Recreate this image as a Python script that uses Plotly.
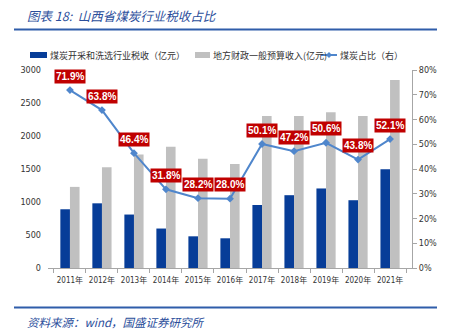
import plotly.graph_objects as go

years = ["2011年", "2012年", "2013年", "2014年", "2015年", "2016年",
         "2017年", "2018年", "2019年", "2020年", "2021年"]
coal_tax = [890, 980, 810, 598, 480, 450, 955, 1103, 1205, 1027, 1495]
local_rev = [1229, 1528, 1721, 1836, 1654, 1574, 2302, 2302, 2358, 2302, 2848]
coal_share = [71.9, 63.8, 46.4, 31.8, 28.2, 28.0, 50.1, 47.2, 50.6, 43.8, 52.1]

name_tax = "煤炭开采和洗选行业税收（亿元）"
name_rev = "地方财政一般预算收入(亿元)"
name_share = "煤炭占比（右）"

W, H = 452, 336
L, R, T, B = 48, 40, 70, 68
pw, ph = W - L - R, H - T - B

BLUE = "#073D98"
GRAY = "#C0C0C0"
LINE = "#4F86CC"


def px(x):
    return (x - L) / pw


def py(y):
    return (H - B - y) / ph


narrow = "Liberation Sans Narrow, DejaVu Sans Condensed, Noto Sans CJK SC, sans-serif"
tick_font = dict(family=narrow, size=9, color="#333333")
xtick_font = dict(family=narrow, size=8, color="#333333")
cjk = "Noto Sans CJK SC, sans-serif"

fig = go.Figure()
fig.add_trace(go.Bar(x=years, y=coal_tax, name=name_tax, marker_color=BLUE,
                     marker_line_width=0))
fig.add_trace(go.Bar(x=years, y=local_rev, name=name_rev, marker_color=GRAY,
                     marker_line_width=0))
fig.add_trace(go.Scatter(x=years, y=coal_share, name=name_share, yaxis="y2",
                         mode="lines+markers",
                         line=dict(color=LINE, width=2),
                         marker=dict(symbol="diamond", size=6, color=LINE)))

annotations = []
for yr, v in zip(years, coal_share):
    annotations.append(dict(x=yr, y=v, xref="x", yref="y2", text=f"<b>{v:.1f}%</b>",
                            showarrow=False, yshift=14, bgcolor="#C00000",
                            font=dict(family="Liberation Sans, Arial, sans-serif", size=10, color="white"),
                            borderpad=1))

annotations.append(dict(x=px(25), y=py(15), xref="paper", yref="paper",
                        text="<i>图表 18:  山西省煤炭行业税收占比</i>", showarrow=False,
                        xanchor="left", yanchor="middle",
                        font=dict(family=cjk, size=12.5, color="#2B4E9B")))
annotations.append(dict(x=px(25), y=py(322), xref="paper", yref="paper",
                        text="<i>资料来源：wind，国盛证券研究所</i>", showarrow=False,
                        xanchor="left", yanchor="middle",
                        font=dict(family=cjk, size=11.5, color="#2B4E9B")))

# legend (drawn manually so it fits on a single row)
leg_y = 55
leg_font = dict(family=cjk, size=9, color="#333333")
for txt, x0 in [(name_tax, 47.5), (name_rev, 210.5), (name_share, 337.5)]:
    annotations.append(dict(x=px(x0), y=py(leg_y), xref="paper", yref="paper", text=txt,
                            showarrow=False, xanchor="left", yanchor="middle", font=leg_font))

shapes = [
    dict(type="line", xref="paper", yref="paper", x0=px(14), x1=px(437), y0=py(29.5), y1=py(29.5),
         line=dict(color="#2F5DAA", width=2)),
    dict(type="line", xref="paper", yref="paper", x0=px(14), x1=px(437), y0=py(307.5), y1=py(307.5),
         line=dict(color="#2F5DAA", width=2)),
    dict(type="rect", xref="paper", yref="paper", x0=px(30), x1=px(47), y0=py(58), y1=py(52),
         fillcolor=BLUE, line_width=0),
    dict(type="rect", xref="paper", yref="paper", x0=px(195), x1=px(210), y0=py(58), y1=py(52),
         fillcolor=GRAY, line_width=0),
    dict(type="line", xref="paper", yref="paper", x0=px(321), x1=px(337), y0=py(leg_y), y1=py(leg_y),
         line=dict(color=LINE, width=2)),
    dict(type="path", xref="paper", yref="paper",
         path=f"M {px(329)} {py(leg_y - 3)} L {px(332)} {py(leg_y)} L {px(329)} {py(leg_y + 3)} L {px(326)} {py(leg_y)} Z",
         fillcolor=LINE, line_width=0),
]

fig.update_layout(
    width=W, height=H,
    margin=dict(l=L, r=R, t=T, b=B),
    paper_bgcolor="white", plot_bgcolor="white",
    barmode="group", bargap=0.4, bargroupgap=0,
    showlegend=False,
    xaxis=dict(type="category", showline=True, linecolor="#A6A6A6", linewidth=1,
               ticks="outside", tickson="boundaries", ticklen=4, tickcolor="#A6A6A6",
               tickfont=xtick_font, tickangle=0, ticklabelstandoff=4,
               showgrid=False, zeroline=False),
    yaxis=dict(range=[0, 3000], dtick=500, showline=False, showgrid=False, zeroline=False,
               ticks="", tickfont=tick_font, ticklabelstandoff=6),
    yaxis2=dict(range=[0, 80], dtick=10, ticksuffix="%", overlaying="y", side="right",
                showline=True, linecolor="#A6A6A6", linewidth=1, ticks="outside", ticklen=4,
                tickcolor="#A6A6A6", showgrid=False, zeroline=False, tickfont=tick_font),
    annotations=annotations,
    shapes=shapes,
)

fig.write_html("out.html")
